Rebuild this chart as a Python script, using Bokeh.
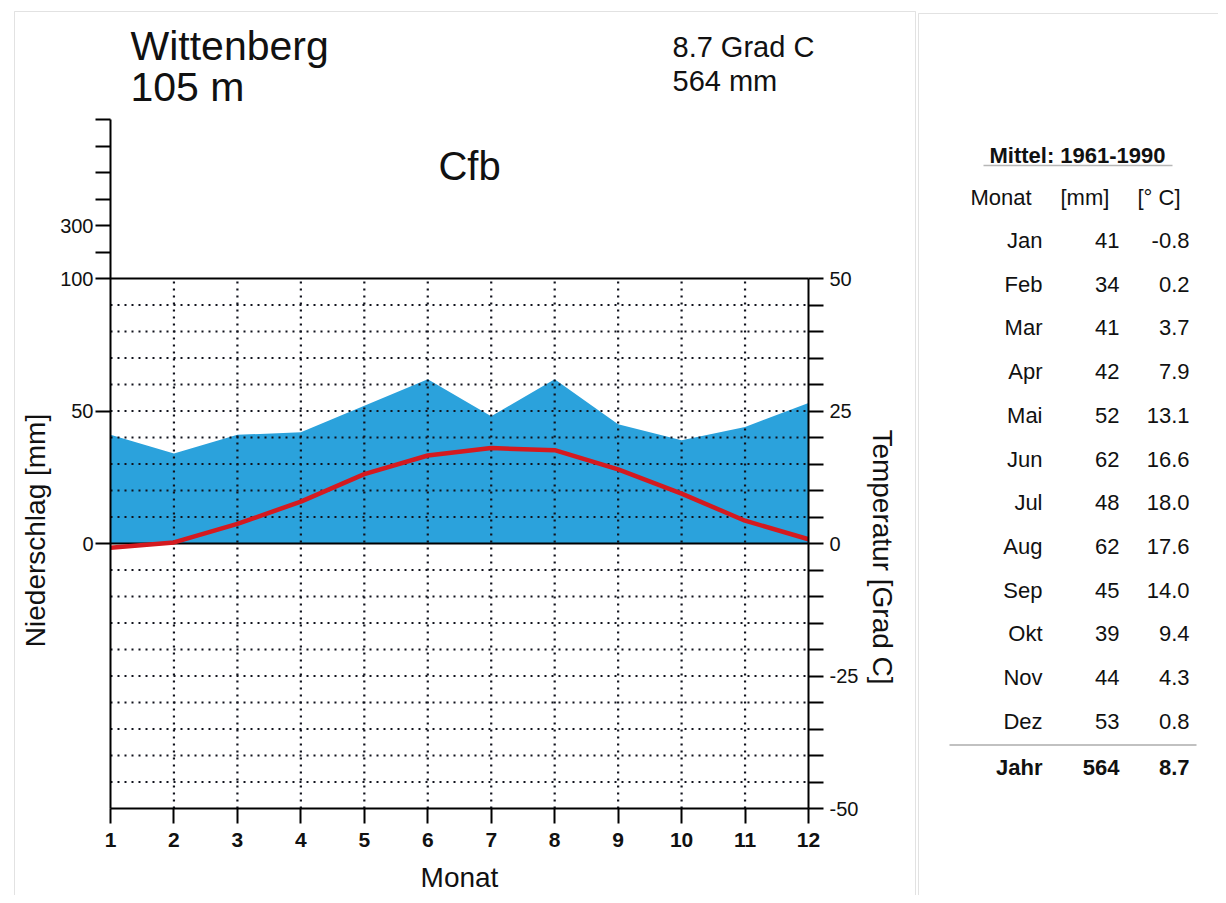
from bokeh.plotting import figure
from bokeh.models import Range1d, LinearAxis, FixedTicker, Label, PolyAnnotation
from bokeh.embed import file_html
from bokeh.resources import INLINE

# ---------------- data ----------------
station = "Wittenberg"
altitude = "105 m"
annual_temp_text = "8.7 Grad C"
annual_precip_text = "564 mm"
climate_class = "Cfb"
period_text = "Mittel: 1961-1990"

months = [1, 2, 3, 4, 5, 6, 7, 8, 9, 10, 11, 12]
month_names = ["Jan", "Feb", "Mar", "Apr", "Mai", "Jun", "Jul", "Aug", "Sep", "Okt", "Nov", "Dez"]
precip_mm = [41, 34, 41, 42, 52, 62, 48, 62, 45, 39, 44, 53]
temp_c = [-0.8, 0.2, 3.7, 7.9, 13.1, 16.6, 18.0, 17.6, 14.0, 9.4, 4.3, 0.8]
annual_precip = 564
annual_temp = 8.7

precip_tick_values = [0, 50, 100, 300]
precip_tick_labels = ["0", "50", "100", "300"]
precip_minor_values = [200, 400, 500, 600, 700]
temp_tick_values = [-50, -25, 0, 25, 50]
temp_tick_labels = ["-50", "-25", "0", "25", "50"]
temp_minor_values = [-45, -40, -35, -30, -20, -15, -10, -5, 5, 10, 15, 20, 30, 35, 40, 45]
grid_temps = [-45, -40, -35, -30, -25, -20, -15, -10, -5, 5, 10, 15, 20, 25, 30, 35, 40, 45]

table_headers = ["Monat", "[mm]", "[° C]"]
year_label = "Jahr"


def mm_to_y(mm):
    # Walter-Lieth scale: 10 °C = 20 mm, above 100 mm reduced 1:10
    return mm / 2.0 if mm <= 100 else 50.0 + (mm - 100) / 20.0


FONT = "Liberation Sans"
BLUE = "#2ba2dc"
RED = "#d41a1f"
DOT = "#10121c"

# ---------------- figure (frame covers the whole canvas) ----------------
W, H = 1218, 895
PX_M = 698.0 / 11.0   # pixels per month (month 1 at x=110, month 12 at x=808)
PX_T = 5.3            # pixels per degree C (0 at y=543)


def dx(sx):
    return 1 + (sx - 110) / PX_M


def dy(sy):
    return (543 - sy) / PX_T


p = figure(width=W, height=H, x_range=Range1d(dx(0), dx(W)), y_range=Range1d(dy(H), dy(0)),
           x_axis_type=None, y_axis_type=None, output_backend="svg",
           toolbar_location=None, min_border=0, min_border_left=0, min_border_right=0,
           min_border_top=0, min_border_bottom=0)
p.outline_line_color = None
p.background_fill_color = "white"
p.border_fill_color = "white"
p.xgrid.visible = False
p.ygrid.visible = False

# precipitation area
p.varea(x=months, y1=[0] * len(months), y2=[mm_to_y(v) for v in precip_mm],
        fill_color=BLUE, fill_alpha=1.0)

# dotted grid
p.segment(x0=[months[0]] * len(grid_temps), x1=[months[-1]] * len(grid_temps), y0=grid_temps, y1=grid_temps,
          line_color=DOT, line_width=2.2, line_dash="2 5")
inner_months = months[1:-1]
p.segment(x0=inner_months, x1=inner_months, y0=[-50] * len(inner_months), y1=[50] * len(inner_months),
          line_color=DOT, line_width=2.2, line_dash="2 5")

# solid lines at 0 and 50
p.segment(x0=[months[0]] * 2, x1=[months[-1]] * 2, y0=[0, 50], y1=[0, 50], line_color="black", line_width=2)

# temperature
p.line(months, temp_c, line_color=RED, line_width=4.5)


def style_axis(ax, label_size="20px", bold=False):
    ax.axis_line_width = 2
    ax.axis_line_color = "black"
    ax.major_tick_line_width = 2
    ax.minor_tick_line_width = 2
    ax.major_tick_out = 15
    ax.major_tick_in = 0
    ax.minor_tick_out = 15
    ax.minor_tick_in = 0
    ax.major_label_text_font = FONT
    ax.major_label_text_font_size = label_size
    ax.major_label_text_color = "#111"
    ax.major_label_text_font_style = "bold" if bold else "normal"
    ax.axis_label_text_font = FONT
    ax.axis_label_text_font_size = "28px"
    ax.axis_label_text_font_style = "normal"
    ax.axis_label_text_color = "#111"


def title_axis(label, loc, bounds, standoff):
    ax = LinearAxis(ticker=FixedTicker(ticks=[]), axis_label=label, fixed_location=loc, bounds=bounds)
    style_axis(ax)
    ax.axis_line_color = None
    ax.major_tick_out = 0
    ax.minor_tick_out = 0
    ax.major_label_standoff = 0
    ax.axis_label_standoff = standoff
    return ax


xaxis = LinearAxis(ticker=FixedTicker(ticks=months), axis_label="Monat",
                   fixed_location=-50, bounds=(months[0], months[-1]))
style_axis(xaxis, "21px", bold=True)
xaxis.major_label_standoff = 9
xaxis.axis_label_standoff = 12
p.add_layout(xaxis, "below")

laxis = LinearAxis(ticker=FixedTicker(ticks=[mm_to_y(v) for v in precip_tick_values],
                                      minor_ticks=[mm_to_y(v) for v in precip_minor_values]),
                   fixed_location=months[0], bounds=(-50, mm_to_y(700)))
laxis.major_label_overrides = {mm_to_y(v): lab for v, lab in zip(precip_tick_values, precip_tick_labels)}
style_axis(laxis)
laxis.major_label_standoff = 2
p.add_layout(laxis, "left")
p.add_layout(title_axis("Niederschlag [mm]", months[0], (-40, 45), 60), "left")

raxis = LinearAxis(ticker=FixedTicker(ticks=temp_tick_values, minor_ticks=temp_minor_values),
                   fixed_location=months[-1], bounds=(-50, 50))
raxis.major_label_overrides = {v: lab for v, lab in zip(temp_tick_values, temp_tick_labels)}
style_axis(raxis)
raxis.major_label_standoff = 6
p.add_layout(raxis, "right")
p.add_layout(title_axis("Temperatur [Grad C]", months[-1], (-55, 50), 58), "right")


def add_text(text, sx, sy, size, align="left", bold=False):
    # sy: vertical centre of the text in canvas pixels
    p.add_layout(Label(x=dx(sx), y=dy(sy), x_units="data", y_units="data", text=text,
                       text_font=FONT, text_font_size=f"{size}px", text_align=align,
                       text_baseline="alphabetic", text_color="#111",
                       text_font_style="bold" if bold else "normal"))


def add_poly(xs, ys, color="#999999", width=1.0):
    p.add_layout(PolyAnnotation(xs=[dx(v) for v in xs], ys=[dy(v) for v in ys],
                                xs_units="data", ys_units="data",
                                fill_alpha=0, line_color=color, line_width=width))


# header texts
add_text(station, 130, 45, 41)
add_text(altitude, 130, 86, 41)
add_text(annual_temp_text, 672, 46, 29)
add_text(annual_precip_text, 672, 80, 29)
add_text(climate_class, 469, 165, 40, align="center")

# table
add_text(period_text, 1077, 155, 22, align="center", bold=True)
add_poly([983, 1172], [165, 165], color="#111", width=1.5)
add_text(table_headers[0], 970, 197, 22)
add_text(table_headers[1], 1060, 197, 22)
add_text(table_headers[2], 1137, 197, 22)
ROW0, ROWH = 240.0, 43.7
for i, name in enumerate(month_names):
    base = ROW0 + i * ROWH
    add_text(name, 1042, base, 22, align="right")
    add_text(str(precip_mm[i]), 1119, base, 22, align="right")
    add_text(f"{temp_c[i]:.1f}", 1189, base, 22, align="right")
add_poly([949, 1196], [744.5, 744.5], color="#333", width=2)
add_text(year_label, 1042, 767, 22, align="right", bold=True)
add_text(str(annual_precip), 1119, 767, 22, align="right", bold=True)
add_text(f"{annual_temp:.1f}", 1189, 767, 22, align="right", bold=True)

# panel borders
add_poly([14, 14, 915, 915], [960, 11, 11, 960], color="#a0a0a0", width=1)
add_poly([918, 918, 1260, 1260], [960, 13, 13, 960], color="#a0a0a0", width=1)

open("out.html", "w").write(file_html(p, INLINE))
